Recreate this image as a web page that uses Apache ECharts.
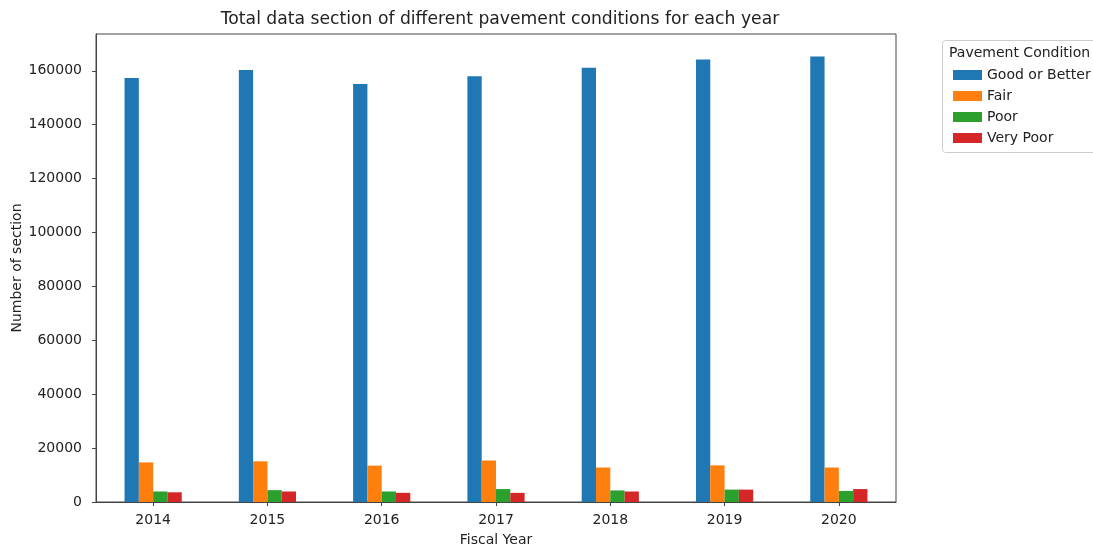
<!DOCTYPE html>
<html><head><meta charset="utf-8">
<script src="https://cdn.jsdelivr.net/npm/echarts@6/dist/echarts.min.js"></script>
<style>html,body{margin:0;padding:0;background:#fff}#c{width:1093px;height:546px}</style>
</head><body><div id="c"></div>
<script>
const years = ['2014','2015','2016','2017','2018','2019','2020'];
const goodOrBetter = [157300, 160300, 155100, 158000, 161100, 164200, 165300];
const fair = [14700, 15100, 13500, 15400, 12800, 13600, 12800];
const poor = [3900, 4400, 3900, 4800, 4300, 4600, 4100];
const veryPoor = [3600, 3900, 3400, 3400, 3900, 4600, 4800];
const seriesNames = ['Good or Better','Fair','Poor','Very Poor'];
const colors = ['#1f77b4','#ff7f0e','#2ca02c','#d62728'];
const yTicks = [0,20000,40000,60000,80000,100000,120000,140000,160000];

const font = 'DejaVu Sans';
const allData = [goodOrBetter, fair, poor, veryPoor];
const chart = echarts.init(document.getElementById('c'), null, {renderer:'canvas'});
chart.setOption({
  animation:false,
  color: colors,
  textStyle:{fontFamily:font},
  title:{text:'Total data section of different pavement conditions for each year', left:495, top:6, textAlign:'center',
    textStyle:{fontFamily:font,fontSize:17.2,fontWeight:'normal',color:'#222'}},
  grid:{left:96,right:197,top:34,bottom:44,show:true,borderColor:'#444',borderWidth:1,containLabel:false,outerBoundsMode:'none'},
  legend:{orient:'vertical',left:948,top:63,itemWidth:29,itemHeight:10,itemGap:7,
    icon:'rect',data:seriesNames,
    textStyle:{fontFamily:font,fontSize:14,color:'#222'}},
  graphic:[
    {type:'rect',shape:{x:942.5,y:40.5,width:170,height:112,r:3},style:{fill:'rgba(255,255,255,0.8)',stroke:'#ccc',lineWidth:1},z:0},
    {type:'text',x:949,y:46,style:{text:'Pavement Condition',font:'14px "DejaVu Sans"',fill:'#222'},z:10}
  ],
  xAxis:{type:'category',data:years,name:'Fiscal Year',nameLocation:'middle',nameGap:31,
    nameTextStyle:{fontFamily:font,fontSize:14,color:'#222'},
    axisLine:{show:true,lineStyle:{color:'#444'}},
    axisTick:{show:true,alignWithLabel:true,length:4,lineStyle:{color:'#444'}},
    axisLabel:{fontFamily:font,fontSize:14,color:'#222',margin:11}},
  yAxis:{type:'value',min:0,max:173650,interval:20000,name:'Number of section',nameLocation:'middle',nameGap:72,nameMoveOverlap:false,
    nameTextStyle:{fontFamily:font,fontSize:14,color:'#222'},
    splitLine:{show:false},
    axisLine:{show:true,lineStyle:{color:'#444'}},
    axisTick:{show:true,length:4,lineStyle:{color:'#444'},customValues:yTicks},
    axisLabel:{fontFamily:font,fontSize:14,color:'#222',margin:14,customValues:yTicks,formatter:v=>String(v)}},
  series: seriesNames.map((n,i)=>({name:n,type:'bar',data:allData[i],barWidth:14.3,barGap:'0%',barCategoryGap:'50%',
    itemStyle:{color:colors[i]}}))
});
</script></body></html>
